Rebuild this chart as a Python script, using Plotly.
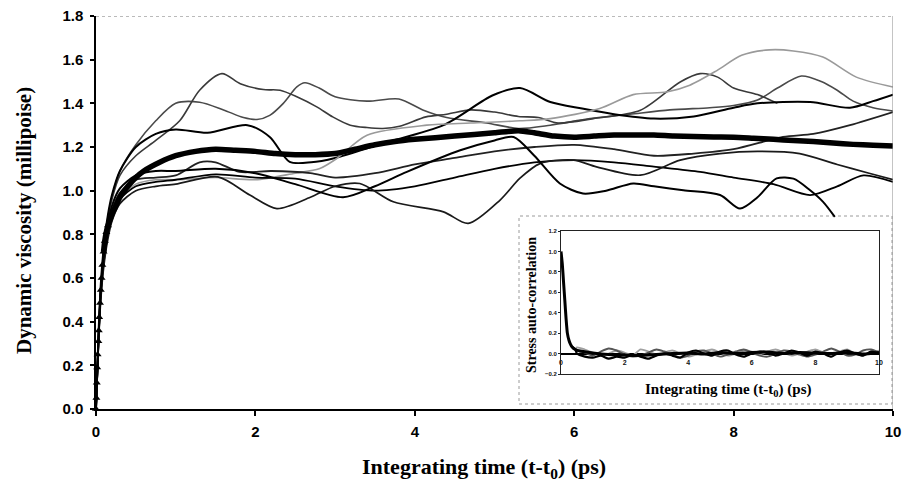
import plotly.graph_objects as go

# ---------------- main panel: running viscosity integrals ----------------
EARLY_T = [0, 0.03, 0.06, 0.1, 0.15, 0.2, 0.3, 0.5, 0.75]

C1_T = EARLY_T + [1.0, 1.3, 1.6, 1.85, 2.02, 2.18, 2.35, 2.52, 2.62, 2.8, 3.0, 3.4, 3.8, 4.1, 4.4,
                  4.9, 5.3, 5.7, 6.2, 6.7, 7.2, 7.7, 8.0, 8.3, 8.55, 8.85, 9.1, 9.3, 9.5, 9.75, 10.0]
C1_V = [0, 0.33, 0.56, 0.74, 0.88, 0.97, 1.09, 1.21, 1.32,
        1.40, 1.405, 1.37, 1.335, 1.326, 1.345, 1.40, 1.475, 1.494, 1.47, 1.43, 1.41, 1.42, 1.37, 1.335,
        1.31, 1.285, 1.30, 1.33, 1.35, 1.37, 1.38, 1.39, 1.415, 1.47, 1.525, 1.50, 1.46, 1.41, 1.38, 1.365]

C2_T = EARLY_T + [1.05, 1.3, 1.58, 1.81, 2.1, 2.31, 2.52, 2.77, 2.97, 3.19, 3.4, 3.6, 3.81, 4.14, 4.4,
                  4.7, 5.0, 5.3, 5.55, 5.8, 6.24, 6.83, 7.33, 7.58, 7.8, 8.0, 8.3, 8.55]
C2_V = [0, 0.32, 0.55, 0.73, 0.87, 0.96, 1.07, 1.16, 1.23,
        1.32, 1.46, 1.536, 1.49, 1.463, 1.46, 1.43, 1.384, 1.338, 1.30, 1.289, 1.285, 1.295, 1.338, 1.35,
        1.37, 1.36, 1.34, 1.335, 1.31, 1.33, 1.368, 1.498, 1.536, 1.52, 1.47, 1.44, 1.40]

C3_T = EARLY_T + [1.0, 1.4, 1.9, 2.18, 2.43, 2.7, 3.0, 3.6, 4.36, 4.98, 5.32, 5.7, 6.1, 6.5, 7.0,
                  7.5, 8.0, 8.3, 8.96, 9.46, 9.75, 10.0]
C3_V = [0, 0.33, 0.57, 0.75, 0.89, 0.98, 1.09, 1.20, 1.26,
        1.28, 1.265, 1.30, 1.246, 1.132, 1.13, 1.15, 1.217, 1.30, 1.437, 1.47, 1.406, 1.376, 1.35, 1.33,
        1.34, 1.38, 1.40, 1.406, 1.38, 1.41, 1.44]

G1_T = EARLY_T + [1.0, 1.5, 2.0, 2.5, 2.8, 3.02, 3.4, 4.15, 4.7, 5.32, 5.7, 6.32, 6.74, 7.16, 7.45,
                  7.79, 8.1, 8.45, 8.75, 9.12, 9.54, 10.0]
G1_V = [0, 0.30, 0.52, 0.69, 0.81, 0.89, 0.97, 1.03, 1.05,
        1.05, 1.06, 1.05, 1.08, 1.10, 1.147, 1.254, 1.30, 1.31, 1.32, 1.33, 1.376, 1.44, 1.452, 1.483,
        1.55, 1.62, 1.645, 1.64, 1.612, 1.52, 1.475]

L1_T = EARLY_T + [1.0, 1.3, 1.5, 1.8, 2.2, 2.69, 3.0, 3.5, 4.0, 4.5, 5.0, 5.5, 6.0, 6.5, 7.0,
                  7.5, 8.0, 8.62, 9.0, 9.46, 10.0]
L1_V = [0, 0.31, 0.53, 0.70, 0.83, 0.91, 0.99, 1.05, 1.06,
        1.07, 1.13, 1.13, 1.086, 1.09, 1.08, 1.06, 1.08, 1.12, 1.15, 1.18, 1.20, 1.21, 1.19, 1.16,
        1.17, 1.19, 1.246, 1.26, 1.30, 1.36]

L2_T = EARLY_T + [1.0, 1.5, 2.0, 2.5, 3.0, 3.5, 4.0, 4.5, 5.0, 5.5, 6.0, 6.5, 7.0, 7.58, 8.0,
                  8.5, 8.96, 9.3, 9.63, 10.0]
L2_V = [0, 0.30, 0.52, 0.68, 0.80, 0.88, 0.96, 1.02, 1.04,
        1.05, 1.075, 1.06, 1.055, 1.02, 1.00, 1.02, 1.06, 1.10, 1.13, 1.14, 1.13, 1.11, 1.086, 1.06,
        1.03, 0.98, 1.02, 1.07, 1.04]

L3_T = EARLY_T + [1.0, 1.53, 1.93, 2.27, 2.69, 3.0, 3.31, 3.73, 4.36, 4.67, 5.07, 5.32, 5.57, 5.99, 6.28,
                  6.83, 7.33, 7.83, 8.3, 8.83, 9.3, 9.7, 10.0]
L3_V = [0, 0.29, 0.50, 0.66, 0.78, 0.86, 0.94, 1.00, 1.02,
        1.03, 1.063, 0.98, 0.918, 0.97, 1.02, 1.033, 0.949, 0.903, 0.85, 0.957, 1.057, 1.124, 1.14, 1.109,
        1.071, 1.14, 1.17, 1.18, 1.17, 1.12, 1.08, 1.05]

B4_T = EARLY_T + [1.0, 1.5, 2.0, 2.5, 3.1, 3.5, 3.9, 4.57, 5.0, 5.24, 5.5, 5.82, 6.11, 6.4, 6.74,
                  7.0, 7.37, 7.83, 8.08, 8.3, 8.54, 8.75, 8.96, 9.12, 9.27]
B4_V = [0, 0.31, 0.54, 0.71, 0.85, 0.93, 1.01, 1.07, 1.09,
        1.09, 1.10, 1.08, 1.03, 0.97, 1.02, 1.086, 1.185, 1.23, 1.246, 1.16, 1.033, 0.987, 1.00, 1.033,
        1.02, 1.002, 0.98, 0.918, 0.97, 1.056, 1.055, 1.002, 0.95, 0.88]

# mean over all runs; its first samples carry triangle symbols
AVG_T = [0, 0.005, 0.01, 0.015, 0.02, 0.03, 0.035, 0.04, 0.05, 0.06, 0.07, 0.08, 0.095, 0.11,
         0.13, 0.15, 0.18, 0.21, 0.25, 0.3, 0.4, 0.5, 0.6, 0.8, 1.0, 1.25, 1.5, 1.75, 2.0, 2.25, 2.5,
         2.75, 3.0, 3.25, 3.5, 3.75, 4.0, 4.5, 5.0, 5.3, 5.5, 5.75, 6.0, 6.25, 6.5, 6.75, 7.0, 7.25,
         7.5, 7.75, 8.0, 8.25, 8.5, 8.75, 9.0, 9.25, 9.5, 9.75, 10.0]
AVG_V = [0, 0.05, 0.12, 0.19, 0.25, 0.31, 0.36, 0.42, 0.485, 0.545, 0.60, 0.66, 0.72, 0.77,
         0.81, 0.84, 0.87, 0.90, 0.93, 0.97, 1.02, 1.06, 1.09, 1.13, 1.16, 1.18, 1.19, 1.185, 1.18,
         1.17, 1.165, 1.165, 1.17, 1.19, 1.21, 1.225, 1.235, 1.25, 1.265, 1.275, 1.265, 1.25, 1.245,
         1.25, 1.255, 1.255, 1.255, 1.25, 1.248, 1.246, 1.245, 1.24, 1.235, 1.23, 1.225, 1.218,
         1.212, 1.208, 1.205]
N_MARKED = 16   # samples drawn with triangle symbols
THICK_FROM = 12  # the heavy mean line starts here

THIN = [
    (C1_T, C1_V, "#4a4a4a", 1.6),
    (C2_T, C2_V, "#3a3a3a", 1.6),
    (C3_T, C3_V, "#000000", 2.0),
    (G1_T, G1_V, "#9a9a9a", 1.6),
    (L1_T, L1_V, "#222222", 1.8),
    (L2_T, L2_V, "#000000", 1.8),
    (L3_T, L3_V, "#1a1a1a", 1.7),
    (B4_T, B4_V, "#000000", 2.0),
]

# ---------------- inset: stress auto-correlation ----------------
ACF_T = [0, 0.04, 0.08, 0.12, 0.16, 0.2, 0.25, 0.3, 0.35, 0.45, 0.6, 0.8, 1.0, 1.5, 2.0, 2.5, 3.0,
         3.5, 4.0, 4.5, 5.0, 5.5, 6.0, 6.5, 7.0, 7.5, 8.0, 8.5, 9.0, 9.5, 10.0]
ACF_V = [1.0, 0.88, 0.70, 0.52, 0.34, 0.20, 0.13, 0.09, 0.065, 0.04, 0.025, 0.015, 0.005, -0.01,
         -0.015, -0.02, -0.01, 0.0, 0.005, -0.005, 0.01, 0.0, 0.01, 0.015, 0.0, 0.01, 0.005, 0.0, 0.01,
         -0.005, 0.01]
NOISE_T = [0.5, 0.75, 1.0, 1.25, 1.5, 1.75, 2.0, 2.25, 2.5, 2.75, 3.0, 3.25, 3.5, 3.75, 4.0, 4.25,
           4.5, 4.75, 5.0, 5.25, 5.5, 5.75, 6.0, 6.25, 6.5, 6.75, 7.0, 7.25, 7.5, 7.75, 8.0, 8.25,
           8.5, 8.75, 9.0, 9.25, 9.5, 9.75, 10.0]
S1_V = [0.03, 0.01, -0.02, 0.02, 0.05, 0.03, -0.01, -0.03, -0.02, 0.01, 0.04, 0.02, -0.01, -0.04,
        -0.02, 0.02, 0.03, 0.0, -0.03, -0.01, 0.02, 0.04, 0.01, -0.02, -0.03, 0.0, 0.03, 0.02, -0.01,
        -0.03, -0.01, 0.02, 0.05, 0.02, -0.02, -0.01, 0.03, 0.04, 0.01]
S2_V = [0.0, -0.03, -0.04, -0.02, -0.05, -0.03, -0.04, -0.01, -0.03, -0.05, -0.02, 0.0, -0.02, -0.04,
        0.01, 0.03, 0.0, -0.02, 0.02, 0.03, -0.01, -0.03, 0.0, 0.02, 0.01, -0.02, 0.0, 0.03, 0.01,
        -0.02, 0.02, 0.0, -0.03, 0.01, 0.03, 0.0, -0.02, 0.02, 0.0]
S3_V = [0.06, 0.04, 0.01, -0.02, 0.0, 0.03, 0.01, -0.02, 0.04, 0.02, -0.01, 0.01, 0.03, 0.0, -0.03,
        -0.01, 0.02, 0.04, 0.01, -0.02, 0.0, 0.03, 0.02, -0.01, 0.02, 0.04, 0.01, -0.02, 0.0, 0.02,
        0.04, 0.01, -0.01, 0.02, 0.04, 0.0, -0.02, 0.01, 0.03]
INSET_XTICKS = [0, 2, 4, 6, 8, 10]

MAIN_XTICKS = [0, 2, 4, 6, 8, 10]
MAIN_YTICKS = [0.0, 0.2, 0.4, 0.6, 0.8, 1.0, 1.2, 1.4, 1.6, 1.8]

SANS = "Liberation Sans"
SERIF = "Liberation Serif"

fig = go.Figure()

for t, v, col, w in THIN:
    fig.add_trace(go.Scatter(
        x=t, y=v, mode="lines", hoverinfo="skip", showlegend=False,
        line=dict(color=col, width=w, shape="spline", smoothing=0.8)))

fig.add_trace(go.Scatter(
    x=AVG_T[:THICK_FROM + 1], y=AVG_V[:THICK_FROM + 1], mode="lines", hoverinfo="skip",
    showlegend=False, line=dict(color="black", width=1.6)))
fig.add_trace(go.Scatter(
    x=AVG_T[THICK_FROM:], y=AVG_V[THICK_FROM:], mode="lines", hoverinfo="skip", showlegend=False,
    line=dict(color="black", width=5.5, shape="spline", smoothing=0.6)))
fig.add_trace(go.Scatter(
    x=AVG_T[:N_MARKED], y=AVG_V[:N_MARKED], mode="markers", hoverinfo="skip", showlegend=False,
    cliponaxis=False,
    marker=dict(symbol="triangle-up", size=7, color="black")))

# inset traces
for v, col, w in [(S3_V, "#a0a0a0", 1.8), (S1_V, "#555555", 1.9), (S2_V, "#000000", 2.2)]:
    fig.add_trace(go.Scatter(
        x=[0.35, 0.45] + NOISE_T, y=[0.065, 0.04] + v, mode="lines", xaxis="x2", yaxis="y2",
        hoverinfo="skip", showlegend=False,
        line=dict(color=col, width=w, shape="spline", smoothing=0.6)))
fig.add_trace(go.Scatter(
    x=ACF_T, y=ACF_V, mode="lines", xaxis="x2", yaxis="y2", hoverinfo="skip", showlegend=False,
    line=dict(color="black", width=3, shape="spline", smoothing=0.5)))
fig.add_trace(go.Scatter(
    x=INSET_XTICKS, y=[-0.09] * len(INSET_XTICKS), text=[str(k) for k in INSET_XTICKS],
    mode="text", xaxis="x2", yaxis="y2", hoverinfo="skip", showlegend=False, cliponaxis=False,
    textfont=dict(family=SANS, size=7, color="#111", weight="bold")))

# plot area spans px 96..893 horizontally and 16..409 vertically
PX0, PX1, PY0, PY1 = 96, 893, 16, 409


def px(x):
    return (x - PX0) / (PX1 - PX0)


def py(y):
    return (PY1 - y) / (PY1 - PY0)


fig.update_layout(
    width=906, height=486,
    margin=dict(l=PX0, r=906 - PX1, t=PY0, b=486 - PY1, autoexpand=False),
    paper_bgcolor="white", plot_bgcolor="white",
    showlegend=False,
    xaxis=dict(
        domain=[0, 1], range=[0, 10], tickvals=MAIN_XTICKS, ticktext=[str(k) for k in MAIN_XTICKS],
        ticks="outside", ticklen=5, tickwidth=1.5, tickcolor="black", automargin=False,
        showline=True, linecolor="black", linewidth=2, showgrid=False, zeroline=False,
        tickfont=dict(family=SANS, size=15, color="black", weight="bold"),
        ticklabelstandoff=3),
    yaxis=dict(
        domain=[0, 1], range=[0, 1.8], tickvals=MAIN_YTICKS, automargin=False,
        ticktext=[f"{k:.1f}" for k in MAIN_YTICKS],
        ticks="outside", ticklen=4, tickwidth=1.5, tickcolor="black",
        showline=True, linecolor="black", linewidth=1.5, showgrid=False, zeroline=False,
        tickfont=dict(family=SANS, size=15, color="black", weight="bold"),
        ticklabelstandoff=4),
    xaxis2=dict(
        domain=[px(561), px(879)], range=[0, 10], anchor="y2", automargin=False,
        showticklabels=False, ticks="", showline=True, mirror=True,
        linecolor="#222", linewidth=1, showgrid=False, zeroline=False),
    yaxis2=dict(
        domain=[py(374), py(231)], range=[-0.2, 1.2], anchor="x2", dtick=0.2, automargin=False,
        tickformat=".1f", ticks="outside", ticklen=2, tickcolor="#222",
        tickfont=dict(family=SANS, size=6, color="#111", weight="bold"),
        showline=True, mirror=True, linecolor="#222", linewidth=1, showgrid=False,
        zeroline=True, zerolinecolor="black", zerolinewidth=1.5),
    shapes=[
        dict(type="rect", xref="paper", yref="paper", x0=px(519), x1=px(892), y0=py(404), y1=py(216),
             line=dict(color="#9a9a9a", width=1, dash="dot"), fillcolor="white", layer="below"),
        dict(type="line", xref="x", yref="y", x0=0, x1=10, y0=1.8, y1=1.8,
             line=dict(color="#777", width=1, dash="dot")),
        dict(type="line", xref="x", yref="y", x0=10, x1=10, y0=0, y1=1.8,
             line=dict(color="#888", width=1)),
    ],
    annotations=[
        dict(text="Dynamic viscosity (millipoise)", xref="paper", yref="paper",
             x=px(24), y=py(221), xanchor="center", yanchor="middle", textangle=-90,
             showarrow=False, font=dict(family=SERIF, size=21, color="black", weight="bold")),
        dict(text="Integrating time (t-t<sub>0</sub>) (ps)", xref="paper", yref="paper",
             x=px(484), y=py(468), xanchor="center", yanchor="middle", showarrow=False,
             font=dict(family=SERIF, size=22, color="black", weight="bold")),
        dict(text="Stress auto-correlation", xref="paper", yref="paper",
             x=px(531), y=py(305), xanchor="center", yanchor="middle", textangle=-90,
             showarrow=False, font=dict(family=SERIF, size=14, color="black", weight="bold")),
        dict(text="Integrating time (t-t<sub>0</sub>) (ps)", xref="paper", yref="paper",
             x=px(728), y=py(390), xanchor="center", yanchor="middle", showarrow=False,
             font=dict(family=SERIF, size=15, color="black", weight="bold")),
    ],
)

fig.write_html("out.html")
